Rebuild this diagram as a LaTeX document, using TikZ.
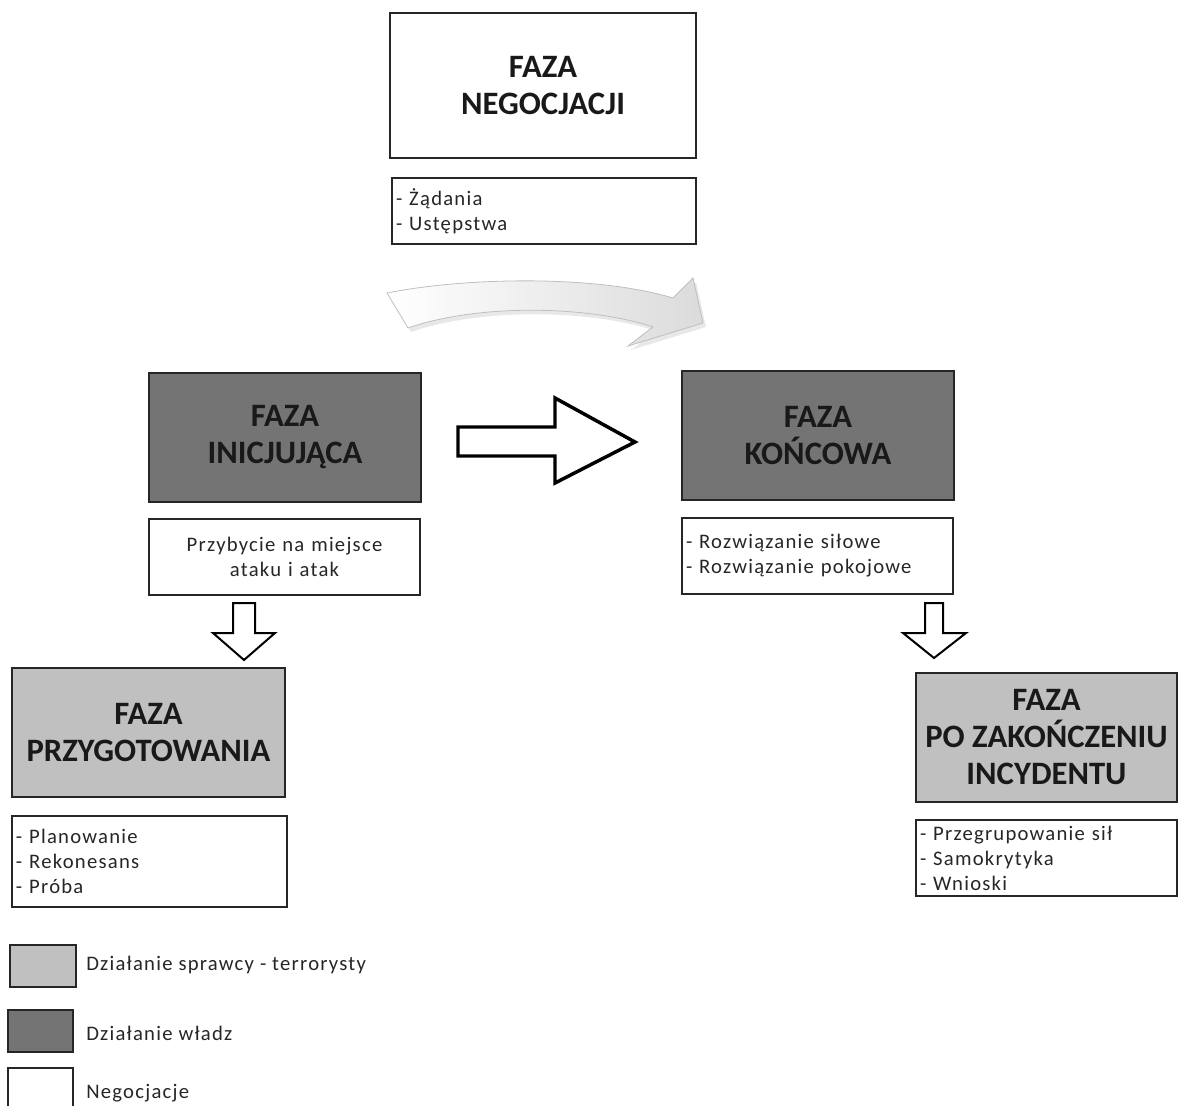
\documentclass[tikz,border=0pt]{standalone}
\usepackage{fontspec}
\setmainfont{Carlito}
\newfontfamily\spaced[LetterSpace=6]{Carlito}
\definecolor{dkgray}{RGB}{116,116,116}
\definecolor{ltgray}{RGB}{192,192,192}
\begin{document}
\begin{tikzpicture}[x=0.75pt,y=-0.75pt,
  sz/.style 2 args={minimum width=#1*0.75pt, minimum height=#2*0.75pt},
  tw/.style={text width=#1*0.75pt-6pt},
  phase/.style={draw=black!85, line width=1.2pt, align=center, inner sep=0pt,
    font=\bfseries\fontsize{24.5}{27.75}\selectfont, text=black!90},
  note/.style={draw=black!85, line width=1.1pt, inner xsep=3pt, inner ysep=0pt,
    font=\spaced\fontsize{15.5}{18.75}\selectfont, text=black!85},
  legtext/.style={anchor=west, inner sep=0pt, font=\spaced\fontsize{15.5}{18}\selectfont, text=black!85},
  blockarrow/.style={draw=black, fill=white, line join=miter},
]
\useasboundingbox (0,0) rectangle (1178,1106);

% phase boxes
\node[phase, sz={306}{145}] (neg) at (543,85.5) {FAZA\\NEGOCJACJI};
\node[phase, fill=dkgray, sz={272}{129}] (ini) at (285,437.5) {FAZA\\INICJUJĄCA};
\node[phase, fill=dkgray, sz={272}{129}] (kon) at (818,435.5) {FAZA\\KOŃCOWA};
\node[phase, fill=ltgray, sz={273}{129}] (prz) at (148.5,732.5) {FAZA\\PRZYGOTOWANIA};
\node[phase, fill=ltgray, sz={261}{129}] (po) at (1046.5,737.5) {FAZA\\PO ZAKOŃCZENIU\\INCYDENTU};

% note boxes
\node[note, sz={304}{66}, tw=304, align=left] (negt) at (544,211) {- Żądania\\- Ustępstwa};
\node[note, sz={271}{76}, tw=271, align=center] (init) at (284.5,557) {Przybycie na miejsce\\ataku i atak};
\node[note, sz={271}{76}, tw=271, align=left] (kont) at (817.5,556) {- Rozwiązanie siłowe\\- Rozwiązanie pokojowe};
\node[note, sz={275}{91}, tw=275, align=left] (przt) at (149.5,861.5) {- Planowanie\\- Rekonesans\\- Próba};
\node[note, sz={261}{76}, tw=261, align=left] (pot) at (1046.5,858) {- Przegrupowanie sił\\- Samokrytyka\\- Wnioski};

% curved shaded arrow (negotiation)
\fill[gray!35, opacity=0.5]
  (390,297) .. controls (470,281) and (600,279) .. (676,302)
  -- (696,282) -- (706,327) -- (631,350) -- (656,331)
  .. controls (593,310) and (483,307) .. (411,332) -- cycle;
\shade[left color=white, right color=gray!28, draw=gray!50, line width=0.6pt]
  (387,293) .. controls (467,277) and (597,275) .. (673,298)
  -- (693,278) -- (703,323) -- (628,346) -- (653,327)
  .. controls (590,306) and (480,303) .. (408,328) -- cycle;

% big block arrow between INICJUJĄCA and KOŃCOWA
\draw[blockarrow, line width=2.6pt]
  (458,427) -- (555,427) -- (555,398) -- (635,442) -- (555,483) -- (555,456) -- (458,456) -- cycle;

% down block arrows
\draw[blockarrow, line width=1.5pt]
  (233,603) -- (255,603) -- (255,633) -- (275,633) -- (244,660) -- (213,633) -- (233,633) -- cycle;
\draw[blockarrow, line width=1.5pt]
  (925,603) -- (943,603) -- (943,633) -- (966,633) -- (934,658) -- (903,633) -- (925,633) -- cycle;

% legend
\node[draw=black!85, line width=1.2pt, fill=ltgray, sz={66}{42}] (leg1) at (43,966) {};
\node[draw=black!85, line width=1.2pt, fill=dkgray, sz={65}{42}] (leg2) at (40.5,1031) {};
\node[draw=black!85, line width=1.2pt, fill=white, sz={65}{42}] (leg3) at (40.5,1089) {};
\node[legtext] (leg1t) at (86,965) {Działanie sprawcy - terrorysty};
\node[legtext] (leg2t) at (86,1033) {Działanie władz};
\node[legtext] (leg3t) at (86,1093) {Negocjacje};
\end{tikzpicture}
\end{document}
